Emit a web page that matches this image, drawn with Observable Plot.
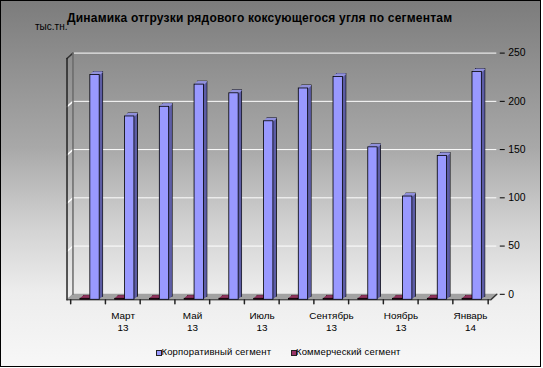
<!DOCTYPE html>
<html>
<head>
<meta charset="utf-8">
<script src="https://cdn.jsdelivr.net/npm/d3@7"></script>
<script src="https://cdn.jsdelivr.net/npm/@observablehq/plot@0.6"></script>
<style>
  body { margin: 0; background: #fff; }
  #chart {
    position: relative; width: 541px; height: 367px; overflow: hidden;
    box-sizing: border-box; border: 1px solid #000;
    font-family: "Liberation Sans", Arial, sans-serif; color: #000;
    background: linear-gradient(to bottom, #7c7c7c 0%, #909090 18%, #a8a8a8 40%, #d2d2d2 62%, #ededed 80%, #f7f7f7 100%);
  }
  #chart svg { position: absolute; left: -1px; top: -1px; }
  .title { position: absolute; left: 66px; top: 10.8px; font-weight: bold; font-size: 12px; line-height: 12px; letter-spacing: 0.2px; white-space: nowrap; z-index: 2; }
  .unit { position: absolute; left: 34px; top: 20.5px; font-size: 10px; line-height: 10px; white-space: nowrap; z-index: 1; }
  .legend { position: absolute; top: 345.7px; font-size: 9.5px; line-height: 10px; white-space: nowrap; letter-spacing: 0.15px; }
  .sw { position: absolute; width: 4px; height: 4px; border: 0.8px solid #222; }
</style>
</head>
<body>
<div id="chart"></div>
<script>
// ---- data ----
const months = ["Февраль 13","Март 13","Апрель 13","Май 13","Июнь 13","Июль 13","Август 13","Сентябрь 13","Октябрь 13","Ноябрь 13","Декабрь 13","Январь 14"];
const tickLabels = ["","Март\n13","","Май\n13","","Июль\n13","","Сентябрь\n13","","Ноябрь\n13","","Январь\n14"];
const corporate = [233,190,200,223,214,185,219,231,158,107,149,236];
const commercial = [1,1,1,1,1,1,1,1,1,1,1,1];
const yTicks = [0,50,100,150,200,250];
const seriesNames = ["Корпоративный сегмент","Коммерческий сегмент"];
const titleText = "Динамика отгрузки рядового коксующегося угля по сегментам";
const unitText = "тыс.тн.";

// ---- geometry / style ----
const W = 543, H = 368;
const mL = 73, mR = 43, mT = 53, mB = 72;
const FRONT = {dx: -6, dy: 5.5};   // floor front offset
const DEPTH = {dx: 3.5, dy: -3};   // bar depth
const bw = (W - mL - mR) / months.length;
const wallH = H - mB - mT;

const rows = months.map((m, i) => ({month: m, label: tickLabels[i], corp: corporate[i], comm: commercial[i]}));
const lineShape = {draw(ctx, l) { ctx.moveTo(0, 0); ctx.lineTo(0, -l); }};
const diagLen = Math.hypot(FRONT.dx, FRONT.dy);
const diagRot = 180 + Math.atan2(-FRONT.dx, FRONT.dy) * 180 / Math.PI;

function bar3d(key, insetLeft, insetRight, colors) {
  const out = [];
  const n = 8;
  for (let i = n; i >= 1; i--) {
    const t = i / n;
    const dx = FRONT.dx + DEPTH.dx * t, dy = FRONT.dy + DEPTH.dy * t;
    out.push(Plot.barY(rows, {x: "month", y: key, dx, dy, insetLeft, insetRight,
      fill: colors.side, stroke: i === n ? "#000" : "none", strokeWidth: 0.8}));
    out.push(Plot.tickY(rows, {x: "month", y: key, dx, dy, insetLeft, insetRight,
      stroke: colors.top, strokeWidth: 1}));
  }
  out.push(Plot.barY(rows, {x: "month", y: key, ...FRONT, insetLeft, insetRight,
    fill: colors.front, stroke: "#000", strokeWidth: 0.8}));
  return out;
}

const floor = [];
for (let j = 0; j <= 12; j++) {
  const t = j / 12;
  floor.push(Plot.ruleY([0], {dx: FRONT.dx * t, dy: FRONT.dy * t, stroke: "#a2a2a2", strokeWidth: 1.2}));
}

const corpColors = {front: "#9999ff", side: "#5e5ea6", top: "#a9a9f5"};
const commColors = {front: "#993366", side: "#5c1f3d", top: "#a8406f"};

const plot = Plot.plot({
  width: W, height: H,
  marginLeft: mL, marginRight: mR, marginTop: mT, marginBottom: mB,
  style: {background: "none", fontFamily: "'Liberation Sans', Arial, sans-serif", fontSize: "10.5px", color: "#000", overflow: "visible"},
  x: {type: "band", domain: months, padding: 0, axis: null},
  y: {domain: [0, 250]},
  marks: [
    ...floor,
    Plot.ruleY(yTicks.filter(d => d > 0), {stroke: "#fff", strokeWidth: 1}),
    // left wall
    Plot.vector(yTicks.filter(d => d > 0 && d < 250), {y: d => d, frameAnchor: "left", length: diagLen, rotate: diagRot, anchor: "start", shape: lineShape, stroke: "#fff"}),
    Plot.vector([250], {y: d => d, frameAnchor: "left", length: diagLen, rotate: diagRot, anchor: "start", shape: lineShape, stroke: "#333"}),
    Plot.vector([0], {y: d => d, frameAnchor: "left", length: wallH, rotate: 0, anchor: "start", shape: lineShape, stroke: "#6a6a6a"}),
    Plot.vector([0], {y: d => d, frameAnchor: "left", ...FRONT, length: wallH, rotate: 0, anchor: "start", shape: lineShape, stroke: "#222"}),
    // floor edges
    Plot.ruleY([0], {...FRONT, stroke: "#333", strokeWidth: 1}),
    Plot.vector([0], {y: d => d, frameAnchor: "right", length: diagLen, rotate: diagRot, anchor: "start", shape: lineShape, stroke: "#333"}),
    // category ticks
    Plot.vector(rows, {x: "month", y: () => 0, dx: FRONT.dx - bw / 2, dy: FRONT.dy, length: 4, rotate: 180, anchor: "start", shape: lineShape, stroke: "#222"}),
    Plot.vector(rows.slice(-1), {x: "month", y: () => 0, dx: FRONT.dx + bw / 2, dy: FRONT.dy, length: 4, rotate: 180, anchor: "start", shape: lineShape, stroke: "#222"}),
    // bars
    ...bar3d("comm", 9.5, bw - 19.5, commColors),
    ...bar3d("corp", 19.5, bw - 29.5, corpColors),
    // axes
    Plot.axisY(yTicks, {anchor: "right", tickSize: 5, tickPadding: 4, dx: 2.5, fontSize: 10.5, label: null, stroke: "#000", fill: "#000"}),
    Plot.text(rows, {x: "month", text: "label", frameAnchor: "bottom", dx: FRONT.dx, dy: 16.5, lineAnchor: "top", fontSize: 10, lineHeight: 1.2, fill: "#000"})
  ]
});

const chart = document.getElementById("chart");
chart.appendChild(plot);

const title = document.createElement("div");
title.className = "title"; title.textContent = titleText; chart.appendChild(title);
const unit = document.createElement("div");
unit.className = "unit"; unit.textContent = unitText; chart.appendChild(unit);

const legendPos = [{sw: 155, tx: 160.5}, {sw: 290, tx: 295}];
seriesNames.forEach((name, i) => {
  const c = i === 0 ? corpColors.front : commColors.front;
  const s = document.createElement("div");
  s.className = "sw";
  s.style.left = legendPos[i].sw + "px"; s.style.top = "348.5px"; s.style.background = c;
  chart.appendChild(s);
  const t = document.createElement("div");
  t.className = "legend"; t.style.left = legendPos[i].tx + "px"; t.textContent = name;
  chart.appendChild(t);
});
</script>
</body>
</html>
